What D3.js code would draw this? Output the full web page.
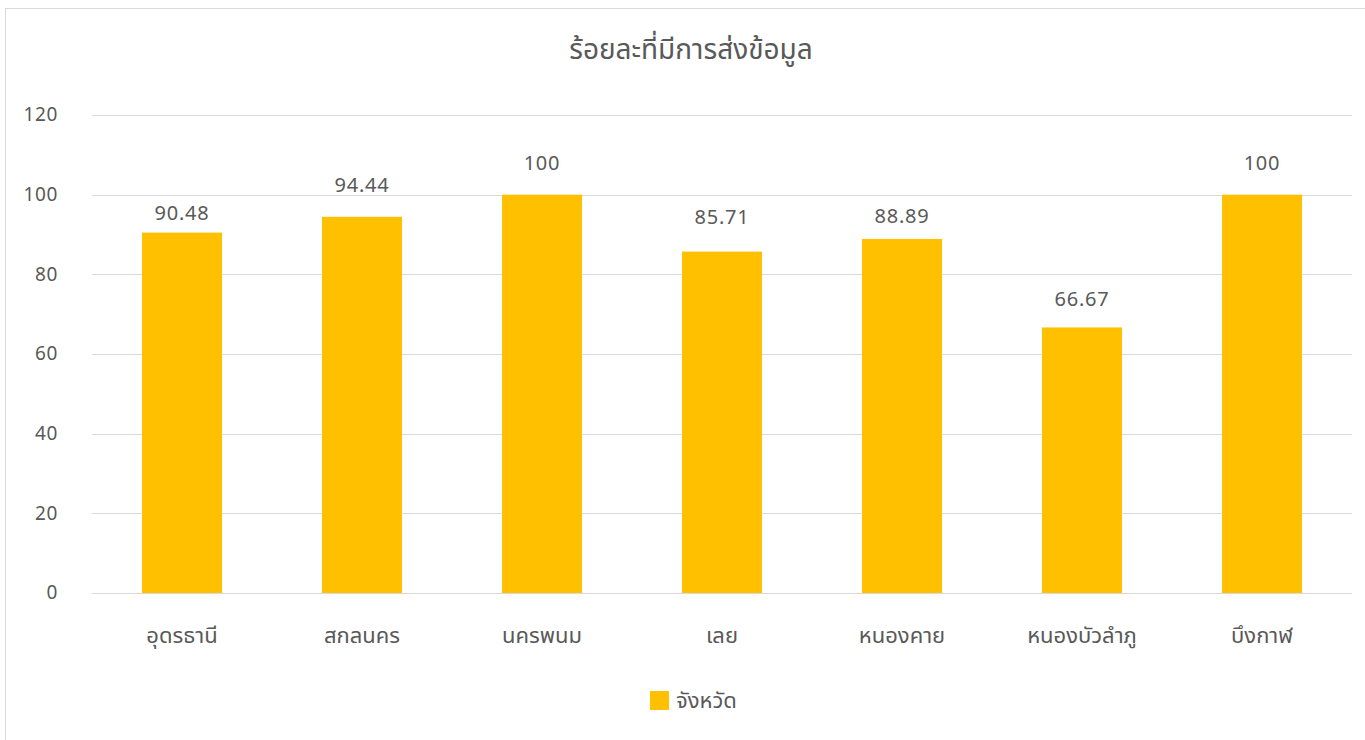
<!DOCTYPE html>
<html><head><meta charset="utf-8">
<script src="https://cdn.jsdelivr.net/npm/d3@7"></script>
<style>
html,body{margin:0;padding:0;background:#fff;}
svg{display:block;}
text{font-family:"Noto Sans Thai","Noto Sans","Open Sans",sans-serif;fill:#595959;}
</style></head>
<body>
<svg id="c" width="1365" height="740"></svg>
<script>
const categories = ["อุดรธานี","สกลนคร","นครพนม","เลย","หนองคาย","หนองบัวลำภู","บึงกาฬ"];
const values = [90.48, 94.44, 100, 85.71, 88.89, 66.67, 100];
const labels = ["90.48","94.44","100","85.71","88.89","66.67","100"];
const yTicks = [0,20,40,60,80,100,120];
const title = "ร้อยละที่มีการส่งข้อมูล";
const seriesName = "จังหวัด";
// layout only: distance of each data label's centre above its bar (px), as placed in the original
const labelGap = [20, 32, 32, 35, 23, 28, 32];

const svg = d3.select("#c");
svg.append("rect").attr("x",5.5).attr("y",8.5).attr("width",1400).attr("height",800)
  .attr("fill","none").attr("stroke","#d9d9d9").attr("stroke-width",1);

const x = d3.scaleBand().domain(categories).range([92,1352]).paddingInner(0.5556).paddingOuter(0.2778);
const y = d3.scaleLinear().domain([0,120]).range([593,115]);

svg.append("text").attr("x",691).attr("y",59).attr("text-anchor","middle")
  .style("font-size","28px").attr("fill","#555").text(title);

const grid = svg.append("g");
grid.selectAll("line").data(yTicks).join("line")
  .attr("x1",92).attr("x2",1352).attr("y1",d=>Math.round(y(d))+0.5).attr("y2",d=>Math.round(y(d))+0.5)
  .attr("stroke","#d9d9d9").attr("stroke-width",1);

const yAxis = d3.axisLeft(y).tickValues(yTicks).tickSize(0).tickPadding(0);
const ya = svg.append("g").attr("transform","translate(58,0)").call(yAxis);
ya.select(".domain").remove();
ya.selectAll("text").style("font-size","19px").style("letter-spacing","0.6px").attr("fill","#595959").attr("dy","0.3em");

svg.append("g").selectAll("rect").data(values).join("rect")
  .attr("x",(d,i)=>x(categories[i])).attr("width",x.bandwidth())
  .attr("y",d=>y(d)).attr("height",d=>y(0)-y(d)).attr("fill","#ffc000");

svg.append("g").selectAll("text").data(values).join("text")
  .attr("x",(d,i)=>x(categories[i])+x.bandwidth()/2).attr("y",(d,i)=>y(d)-labelGap[i])
  .attr("dy","0.35em")
  .attr("text-anchor","middle").style("font-size","20px").style("letter-spacing","0.8px").text((d,i)=>labels[i]);

const xAxis = d3.axisBottom(x).tickSize(0).tickPadding(0);
const xa = svg.append("g").attr("transform","translate(0,593)").call(xAxis);
xa.select(".domain").remove();
xa.selectAll("text").style("font-size","22px").attr("fill","#595959").attr("dy","0").attr("y",50);

svg.append("rect").attr("x",650).attr("y",691).attr("width",19).attr("height",19).attr("fill","#ffc000");
svg.append("text").attr("x",676).attr("y",708).style("font-size","22px").text(seriesName);
</script>
</body></html>
